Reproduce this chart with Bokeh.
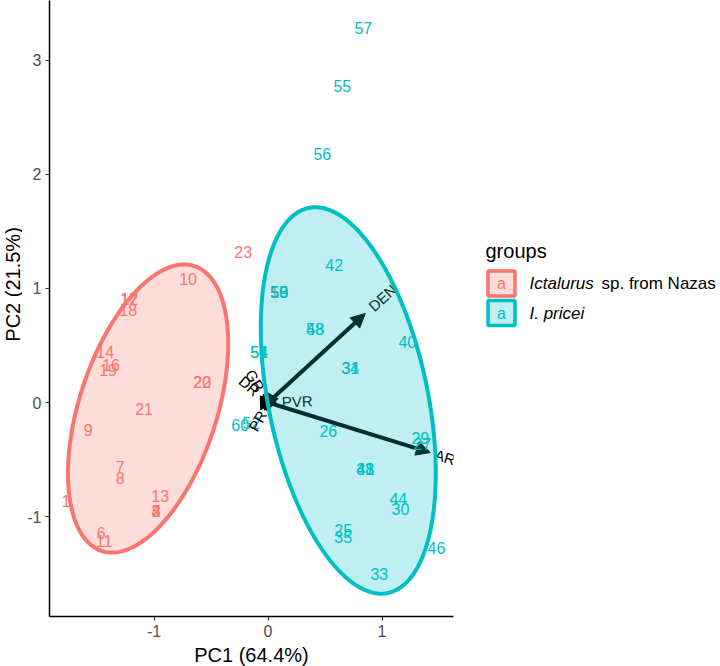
import numpy as np
from bokeh.plotting import figure
from bokeh.layouts import row
from bokeh.models import Range1d, ColumnDataSource, Arrow, NormalHead, FixedTicker
from bokeh.core.properties import value
from bokeh.embed import file_html
from bokeh.resources import INLINE

FONT = "Liberation Sans"
RED = "#F8766D"
BLUE = "#00BFC4"
ARROW_COL = "#000000"

# PCA scores, Ictalurus sp. from Nazas
nazas_labels = ["1", "2", "3", "4", "5", "6", "7", "8", "9", "10", "11", "12",
                "13", "14", "15", "16", "17", "18", "19", "20", "21", "22", "23"]
nazas_pc1 = [-1.772, -0.982, -0.982, -0.982, -0.982, -1.464, -1.297, -1.297, -1.578, -0.701, -1.438, -1.218,
             -0.946, -1.429, 0.098, -1.377, -1.218, -1.227, -1.403, -0.578, -1.087, -0.578, -0.218]
nazas_pc2 = [-0.860, -0.948, -0.948, -0.948, -0.948, -1.141, -0.562, -0.658, -0.237, 1.080, -1.212, 0.904,
             -0.817, 0.439, 0.966, 0.325, 0.904, 0.808, 0.281, 0.176, -0.053, 0.176, 1.317]

# PCA scores, I. pricei
pricei_labels = ["25", "26", "27", "29", "30", "31", "33", "34", "35", "38", "40", "41", "42", "43", "44",
                 "46", "48", "50", "51", "52", "53", "54", "55", "56", "57", "58", "59", "60"]
pricei_pc1 = [0.660, 0.529, 1.354, 1.336, 1.161, 0.722, 0.976, 0.722, 0.660, 0.853, 1.222, 0.853, 0.581, 0.853, 1.143,
              1.477, 0.414, 0.098, -0.077, -0.147, 0.098, -0.077, 0.652, 0.476, 0.836, 0.414, 0.098, -0.244]
pricei_pc2 = [-1.115, -0.246, -0.360, -0.307, -0.931, 0.299, -1.501, 0.299, -1.176, -0.579, 0.527, -0.579, 1.203, -0.579, -0.843,
              -1.273, 0.641, 0.966, 0.439, -0.184, 0.966, 0.439, 2.774, 2.177, 3.283, 0.641, 0.966, -0.193]

# variable loadings
var_names = ["DEN", "AR", "PVR", "GR", "DR", "PR"]
var_pc1 = [0.853, 1.424, 0.056, -0.042, -0.060, -0.025]
var_pc2 = [0.781, -0.439, 0.002, 0.070, 0.053, -0.044]

# normal-probability ellipses per group
ell_groups = ["Ictalurus sp. from Nazas", "I. pricei"]
ell_colors = [RED, BLUE]
ell_cx = [-1.052, 0.704]
ell_cy = [-0.053, 0.018]
ell_semi_major = [1.314, 1.724]
ell_semi_minor = [0.603, 0.699]
ell_angle_deg = [72.0, 101.6]

x_ticks = [-1, 0, 1]
y_ticks = [-1, 0, 1, 2, 3]

p = figure(frame_width=404, frame_height=616,
           x_range=Range1d(-1.917, 1.627), y_range=Range1d(-1.877, 3.526),
           output_backend="svg", toolbar_location=None,
           min_border_left=27, min_border_right=17, min_border_top=0, min_border_bottom=50)
p.background_fill_color = "white"
p.border_fill_color = "white"
p.outline_line_color = None
p.xgrid.visible = False
p.ygrid.visible = False

p.xaxis.ticker = FixedTicker(ticks=x_ticks)
p.yaxis.ticker = FixedTicker(ticks=y_ticks)
p.xaxis.major_label_overrides = {v: str(v) for v in x_ticks}
p.yaxis.major_label_overrides = {v: str(v) for v in y_ticks}
p.xaxis.axis_label = "PC1 (64.4%)"
for ax in (p.xaxis, p.yaxis):
    ax.axis_line_color = "black"
    ax.axis_line_width = 1.5
    ax.major_tick_line_color = "#333333"
    ax.major_tick_line_width = 1.2
    ax.major_tick_out = 4
    ax.major_tick_in = 0
    ax.minor_tick_line_color = None
    ax.major_label_text_font = FONT
    ax.major_label_text_font_size = "16px"
    ax.major_label_text_color = "#4D4D4D"
    ax.major_label_standoff = 4
    ax.axis_label_text_font = FONT
    ax.axis_label_text_font_size = "20px"
    ax.axis_label_text_font_style = "normal"
    ax.axis_label_text_color = "black"
    ax.axis_label_standoff = 4

# arrows to the loadings (kept under the ellipse fill)
arrow_src = ColumnDataSource(dict(x0=[0.0] * len(var_names), y0=[0.0] * len(var_names),
                                  x1=var_pc1, y1=var_pc2))
arr = Arrow(source=arrow_src, x_start="x0", y_start="y0", x_end="x1", y_end="y1",
            line_color=ARROW_COL, line_width=4,
            end=NormalHead(size=14, fill_color=ARROW_COL, line_color=ARROW_COL, line_width=1))
arr.level = "underlay"
p.add_layout(arr)

# sample labels
p.text(x=nazas_pc1, y=nazas_pc2, text=nazas_labels, text_color=RED,
       text_font=value(FONT), text_font_size="16px", text_align="center", text_baseline="middle")
p.text(x=pricei_pc1, y=pricei_pc2, text=pricei_labels, text_color=BLUE,
       text_font=value(FONT), text_font_size="16px", text_align="center", text_baseline="middle")

# variable names placed just beyond the arrow tips, rotated along the arrows
vx = np.array(var_pc1)
vy = np.array(var_pc2)
ang = np.arctan(vy / vx)
sgn = np.sign(vx)
char_w = 10.0
shift = np.array([0.25 * len(n) * char_w for n in var_names])
var_src = ColumnDataSource(dict(
    x=vx, y=vy, text=var_names, angle=ang,
    align=["left" if s > 0 else "right" for s in sgn],
    xo=sgn * shift * np.cos(ang), yo=-sgn * shift * np.sin(ang)))
p.text(x="x", y="y", text="text", angle="angle", text_align="align", x_offset="xo", y_offset="yo",
       text_baseline="middle", text_color="black", text_font=value(FONT), text_font_size="15px",
       source=var_src)

# group ellipses on top with a translucent fill
t = np.linspace(0, 2 * np.pi, 240)
for cx, cy, a, b, th, col in zip(ell_cx, ell_cy, ell_semi_major, ell_semi_minor, ell_angle_deg, ell_colors):
    r = np.deg2rad(th)
    ex = cx + a * np.cos(t) * np.cos(r) - b * np.sin(t) * np.sin(r)
    ey = cy + a * np.cos(t) * np.sin(r) + b * np.sin(t) * np.cos(r)
    p.patch(ex, ey, fill_color=col, fill_alpha=0.25, line_color=col, line_width=4)


def blank_panel(width):
    f = figure(width=width, height=666, x_range=Range1d(0, width), y_range=Range1d(666, 0),
               output_backend="svg", toolbar_location=None,
               x_axis_location=None, y_axis_location=None, min_border=0)
    f.outline_line_color = None
    f.xgrid.visible = False
    f.ygrid.visible = False
    f.background_fill_color = "white"
    f.border_fill_color = "white"
    return f


# vertical axis title
ytitle = blank_panel(22)
ytitle.text(x=[12], y=[308], text=["PC2 (21.5%)"], angle=np.pi / 2, text_font=value(FONT),
            text_font_size="20px", text_color="black", text_align="center", text_baseline="middle")

# legend panel
lg = blank_panel(250)
key_y = [307, 339]
lg.text(x=[15], y=[272], text=["groups"], text_font=value(FONT), text_font_size="20px",
        text_color="black", text_baseline="middle")
lg.rect(x=[31, 31], y=key_y, width=27, height=27, fill_color=ell_colors, fill_alpha=0.25,
        line_color=ell_colors, line_width=3.5)
lg.text(x=[31, 31], y=key_y, text=["a", "a"], text_color=ell_colors, text_font=value(FONT),
        text_font_size="16px", text_align="center", text_baseline="middle")
lg.text(x=[59], y=[key_y[0]], text=["Ictalurus"], text_font=value(FONT), text_font_size="17px",
        text_font_style="italic", text_color="black", text_baseline="middle")
lg.text(x=[59], y=[key_y[0]], text=["sp. from Nazas"], x_offset=72, text_font=value(FONT),
        text_font_size="17px", text_color="black", text_baseline="middle")
lg.text(x=[59], y=[key_y[1]], text=["I. pricei"], text_font=value(FONT), text_font_size="17px",
        text_font_style="italic", text_color="black", text_baseline="middle")

layout = row(ytitle, p, lg, spacing=0)
open("out.html", "w").write(file_html(layout, INLINE))
